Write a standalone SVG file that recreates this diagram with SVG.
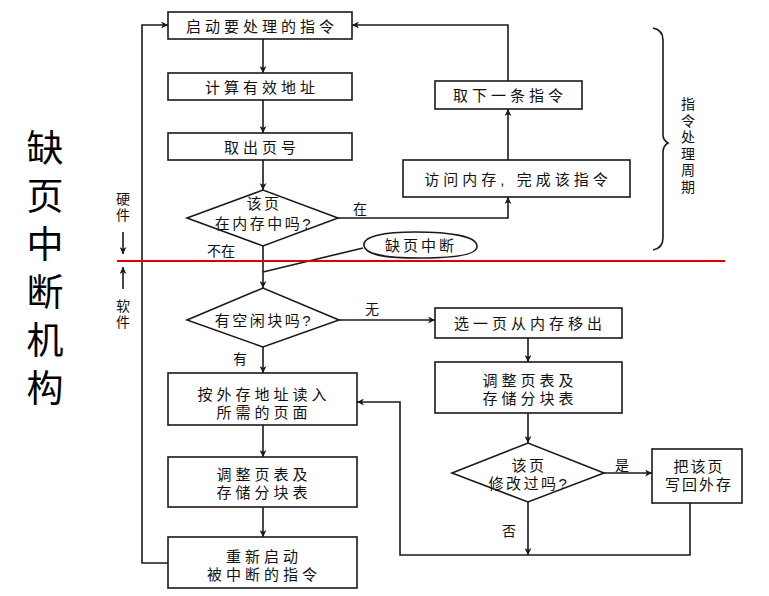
<svg xmlns="http://www.w3.org/2000/svg" width="769" height="596" viewBox="0 0 769 596">
<style>
.box{fill:#fff;stroke:#1a1a1a;stroke-width:1.6}
.ln{fill:none;stroke:#1a1a1a;stroke-width:1.6}
.t{font-family:"Liberation Sans","Noto Sans CJK SC","Noto Sans CJK JP",sans-serif;font-size:15px;fill:#111;text-anchor:middle;dominant-baseline:central;letter-spacing:4px}
.d{letter-spacing:2.5px}
.lb{font-family:"Noto Sans CJK SC",sans-serif;font-size:14px;fill:#111;text-anchor:middle;dominant-baseline:central}
.big{font-family:"Noto Sans CJK SC",sans-serif;font-size:37px;fill:#000;writing-mode:vertical-rl;letter-spacing:11px}
.v{font-family:"Noto Sans CJK SC",sans-serif;font-size:14px;fill:#111;writing-mode:vertical-rl;letter-spacing:2.5px}
</style>
<defs>
<marker id="ah" viewBox="0 0 10 10" refX="10" refY="5" markerWidth="9" markerHeight="7" markerUnits="userSpaceOnUse" orient="auto">
<path d="M0,0 L10,5 L0,10 L3,5 Z" fill="#1a1a1a"/>
</marker>
</defs>
<rect width="769" height="596" fill="#fff"/>

<g id="side-title">
<text class="big" x="45" y="129">缺页中断机构</text>
</g>

<g id="hw-sw">
<text class="v" x="123" y="192" style="letter-spacing:2px">硬件</text>
<text class="v" x="123" y="299" style="letter-spacing:2px">软件</text>
<line x1="123" y1="232" x2="123" y2="254" class="ln" marker-end="url(#ah)"/>
<line x1="123" y1="289" x2="123" y2="267" class="ln" marker-end="url(#ah)"/>
</g>

<g id="brace">
<path class="ln" d="M653,28 Q663,30 663,40 L663,135 Q663,140 668,143 Q663,146 663,152 L663,238 Q663,248 653,250"/>
<text class="v" x="688" y="97">指令处理周期</text>
</g>

<g id="connectors">
<line class="ln" x1="263" y1="39" x2="263" y2="73" marker-end="url(#ah)"/>
<line class="ln" x1="263" y1="100" x2="263" y2="133" marker-end="url(#ah)"/>
<line class="ln" x1="263" y1="160" x2="263" y2="190" marker-end="url(#ah)"/>
<polyline class="ln" points="338,218 508,218 508,197" marker-end="url(#ah)"/>
<line class="ln" x1="508" y1="160" x2="508" y2="109" marker-end="url(#ah)"/>
<polyline class="ln" points="508,81 508,25 352,25" marker-end="url(#ah)"/>
<line class="ln" x1="263" y1="246" x2="263" y2="288" marker-end="url(#ah)"/>
<line class="ln" x1="339" y1="320" x2="435" y2="320" marker-end="url(#ah)"/>
<line class="ln" x1="263" y1="347" x2="263" y2="373" marker-end="url(#ah)"/>
<line class="ln" x1="263" y1="425" x2="263" y2="457" marker-end="url(#ah)"/>
<line class="ln" x1="263" y1="507" x2="263" y2="537" marker-end="url(#ah)"/>
<polyline class="ln" points="168,563 142,563 142,25 168,25" marker-end="url(#ah)"/>
<line class="ln" x1="528" y1="338" x2="528" y2="362" marker-end="url(#ah)"/>
<line class="ln" x1="528" y1="413" x2="528" y2="443" marker-end="url(#ah)"/>
<line class="ln" x1="604" y1="473" x2="652" y2="473" marker-end="url(#ah)"/>
<line class="ln" x1="528" y1="502" x2="528" y2="555" marker-end="url(#ah)"/>
<polyline class="ln" points="690,503 690,555 400,555 400,402 357,402" marker-end="url(#ah)"/>
<line class="ln" x1="263" y1="272" x2="363" y2="248"/>
<text class="lb" x="360" y="208">在</text>
<text class="lb" x="221" y="250">不在</text>
<text class="lb" x="372" y="308">无</text>
<text class="lb" x="240" y="358">有</text>
<text class="lb" x="622" y="464">是</text>
<text class="lb" x="509" y="530">否</text>
</g>

<line id="divider" x1="117" y1="261" x2="725" y2="261" stroke="#e00000" stroke-width="2"/>

<g id="n1"><rect class="box" x="168" y="12" width="184" height="27"/><text class="t" x="262" y="26">启动要处理的指令</text></g>
<g id="n2"><rect class="box" x="168" y="73" width="184" height="27"/><text class="t" x="262" y="87">计算有效地址</text></g>
<g id="n3"><rect class="box" x="168" y="133" width="184" height="27"/><text class="t" x="262" y="147">取出页号</text></g>
<g id="n4"><polygon class="box" points="187,218 263,190 338,218 263,246"/><text class="t d" x="264" y="203">该页<tspan x="264" dy="20">在内存中吗?</tspan></text></g>
<g id="n5"><rect class="box" x="403" y="160" width="227" height="37"/><text class="t" x="518" y="179">访问内存, 完成该指令</text></g>
<g id="n6"><rect class="box" x="435" y="81" width="147" height="28"/><text class="t" x="510" y="95">取下一条指令</text></g>
<g id="n7"><path class="box" d="M364,246 C362,236 385,232 415,232 C450,232 478,236 477,247 C476,256 450,258 420,258 C385,258 366,255 364,246 Z"/><text class="t" x="421" y="245" style="letter-spacing:3px">缺页中断</text></g>
<g id="n8"><polygon class="box" points="187,320 263,288 339,320 263,347"/><text class="t d" x="264" y="320">有空闲块吗?</text></g>
<g id="n9"><rect class="box" x="435" y="308" width="187" height="30"/><text class="t" x="530" y="323">选一页从内存移出</text></g>
<g id="n10"><rect class="box" x="168" y="373" width="189" height="52"/><text class="t" x="264" y="394">按外存地址读入<tspan x="264" dy="18">所需的页面</tspan></text></g>
<g id="n11"><rect class="box" x="168" y="457" width="189" height="50"/><text class="t" x="264" y="474">调整页表及<tspan x="264" dy="18">存储分块表</tspan></text></g>
<g id="n12"><rect class="box" x="168" y="537" width="189" height="51"/><text class="t" x="264" y="556">重新启动<tspan x="264" dy="18">被中断的指令</tspan></text></g>
<g id="n13"><rect class="box" x="435" y="362" width="187" height="51"/><text class="t" x="530" y="380">调整页表及<tspan x="530" dy="18">存储分块表</tspan></text></g>
<g id="n14"><polygon class="box" points="452,473 528,443 604,473 528,502"/><text class="t d" x="529" y="465">该页<tspan x="529" dy="18">修改过吗?</tspan></text></g>
<g id="n15"><rect class="box" x="652" y="449" width="90" height="54"/><text class="t" x="699" y="466" style="letter-spacing:2px">把该页<tspan x="699" dy="18">写回外存</tspan></text></g>
</svg>
